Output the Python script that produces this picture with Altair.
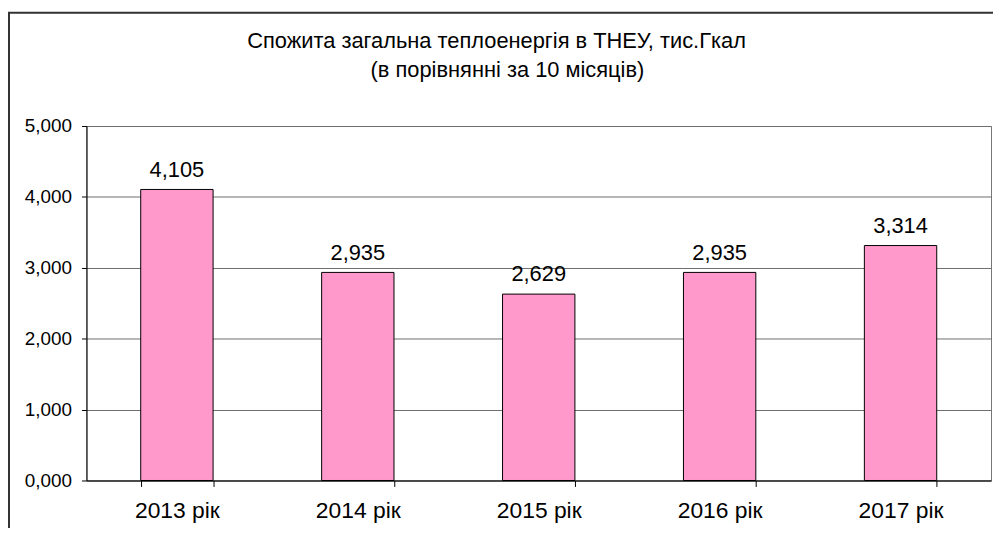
import altair as alt
import pandas as pd

years = ["2013 рік", "2014 рік", "2015 рік", "2016 рік", "2017 рік"]
values = [4.105, 2.935, 2.629, 2.935, 3.314]
title_lines = ["Спожита загальна теплоенергія в ТНЕУ, тис.Гкал", "(в порівнянні за 10 місяців)"]
y_ticks = [0, 1, 2, 3, 4, 5]

df = pd.DataFrame({"year": years, "value": values})
one = pd.DataFrame({"a": [0]})

FONT = "Liberation Sans"
W, H = 911, 357
FMT = "replace(format(datum.value, '.3f'), '.', ',')"

x_enc = alt.X(
    "year:N", sort=years, title=None,
    scale=alt.Scale(paddingInner=0.6, paddingOuter=0.3),
    axis=alt.Axis(labelAngle=0, labelFontSize=23, labelFont=FONT, labelColor="black",
                  tickBand="extent", tickSize=6, tickColor="black", domainColor="black",
                  labelPadding=13, grid=False),
)
y_enc = alt.Y(
    "value:Q", title=None, scale=alt.Scale(domain=[0, 5], nice=False),
    axis=alt.Axis(values=y_ticks, labelExpr=FMT, labelFontSize=19, labelFont=FONT,
                  labelColor="black", labelPadding=10, tickSize=5, tickColor="black",
                  domainColor="black", gridColor="#6e6e6e", grid=True),
)

border = alt.Chart(one).mark_rect(fillOpacity=0, stroke="#333333", strokeWidth=2).encode(
    x=alt.value(-78), x2=alt.value(W + 60), y=alt.value(-114), y2=alt.value(H + 120)
)

bars = alt.Chart(df).mark_bar(color="#FF99CC", stroke="black", strokeWidth=1).encode(
    x=x_enc, y=y_enc
)

labels = alt.Chart(df).transform_calculate(label=FMT).mark_text(
    dy=-13, baseline="alphabetic", fontSize=22, font=FONT, color="black"
).encode(
    x=x_enc, y=y_enc, text="label:N",
)

t1 = alt.Chart(one).mark_text(fontSize=22, font=FONT, color="black", baseline="alphabetic").encode(
    x=alt.value(413), y=alt.value(-79), text=alt.value(title_lines[0])
)
t2 = alt.Chart(one).mark_text(fontSize=22, font=FONT, color="black", baseline="alphabetic").encode(
    x=alt.value(424), y=alt.value(-49), text=alt.value(title_lines[1])
)

chart = alt.layer(border, bars, labels, t1, t2).properties(
    width=W, height=H,
    background="white",
    autosize=alt.AutoSizeParams(type="none"),
    padding={"left": 79, "top": 117, "right": 2, "bottom": 46},
).configure_view(stroke="#777777", strokeWidth=1)

chart.save("out.html", embed_options={"renderer": "svg", "actions": False})
